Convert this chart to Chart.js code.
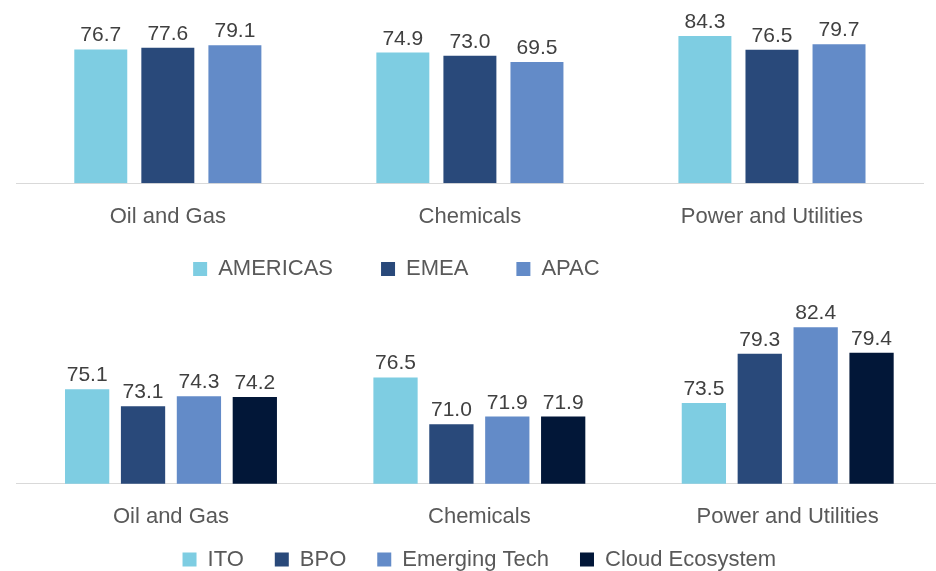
<!DOCTYPE html>
<html>
<head>
<meta charset="utf-8">
<script src="https://cdn.jsdelivr.net/npm/chart.js@4.4.1/dist/chart.umd.min.js"></script>
<style>
  body { margin: 0; width: 936px; height: 571px; overflow: hidden; background: #fff; position: relative; }
  canvas { position: absolute; left: 0; }
</style>
</head>
<body>
<canvas id="regionChart" width="936" height="330" style="top:0"></canvas>
<canvas id="serviceChart" width="960" height="324" style="top:290px"></canvas>
<script>
// Categories
const industries = ["Oil and Gas", "Chemicals", "Power and Utilities"];

// Top chart: scores by region
const regions = ["AMERICAS", "EMEA", "APAC"];
const americas = [76.7, 74.9, 84.3];
const emea = [77.6, 73.0, 76.5];
const apac = [79.1, 69.5, 79.7];

// Bottom chart: scores by service type
const serviceTypes = ["ITO", "BPO", "Emerging Tech", "Cloud Ecosystem"];
const ito = [75.1, 76.5, 73.5];
const bpo = [73.1, 71.0, 79.3];
const emergingTech = [74.3, 71.9, 82.4];
const cloudEcosystem = [74.2, 71.9, 79.4];

const colors = ["#7ECDE2", "#29497A", "#638BC8", "#021738"];
const FONT = '"Liberation Sans", Arial, sans-serif';

// Draw the value above every bar
const valueLabels = {
  id: "valueLabels",
  afterDatasetsDraw(chart) {
    const ctx = chart.ctx;
    ctx.save();
    ctx.font = "21px " + FONT;
    ctx.fillStyle = "#404040";
    ctx.textAlign = "center";
    ctx.textBaseline = "alphabetic";
    chart.data.datasets.forEach(function (ds, i) {
      chart.getDatasetMeta(i).data.forEach(function (bar, j) {
        ctx.fillText(ds.data[j].toFixed(1), bar.x, bar.y - 8);
      });
    });
    ctx.restore();
  },
};

// Nudge the legend box: it sits closer to the axis and is not centred under the plot
const legendShift = {
  id: "legendShift",
  afterLayout(chart, args, opts) {
    const lg = chart.legend;
    lg.left += opts.dx;
    lg.right += opts.dx;
    lg.top += opts.dy;
    lg.bottom += opts.dy;
  },
};

function makeDatasets(names, series, catPct, barPct) {
  return names.map(function (name, i) {
    return {
      label: name,
      data: series[i],
      backgroundColor: colors[i],
      borderWidth: 0,
      categoryPercentage: catPct,
      barPercentage: barPct,
    };
  });
}

function makeOptions(cfg) {
  return {
    responsive: false,
    animation: false,
    layout: { padding: { top: cfg.padTop, left: 16.8, right: cfg.padRight, bottom: cfg.padBottom } },
    scales: {
      x: {
        grid: { display: false, drawTicks: false },
        border: { display: true, color: "#d9d9d9", width: 1 },
        ticks: { padding: 20, color: "#595959", font: { family: FONT, size: 22 } },
      },
      y: { display: false, min: cfg.min, max: cfg.max },
    },
    plugins: {
      tooltip: { enabled: false },
      legend: {
        position: "bottom",
        labels: {
          boxWidth: 14,
          boxHeight: 14,
          padding: cfg.legendPadding,
          color: "#595959",
          font: { family: FONT, size: 22 },
        },
      },
      legendShift: { dx: cfg.legendDx, dy: cfg.legendDy },
    },
  };
}

new Chart(document.getElementById("regionChart"), {
  type: "bar",
  data: {
    labels: industries,
    datasets: makeDatasets(regions, [americas, emea, apac], 0.666, 0.79),
  },
  options: makeOptions({
    min: 0, max: 100, padTop: 8.7, padRight: 13, padBottom: 0.3,
    legendPadding: 48, legendDx: -73.5, legendDy: -39.7,
  }),
  plugins: [valueLabels, legendShift],
});

new Chart(document.getElementById("serviceChart"), {
  type: "bar",
  data: {
    labels: industries,
    datasets: makeDatasets(serviceTypes, [ito, bpo, emergingTech, cloudEcosystem], 0.725, 0.792),
  },
  options: makeOptions({
    min: 64, max: 84, padTop: 23.7, padRight: 18.1, padBottom: 0.9,
    legendPadding: 31, legendDx: 0, legendDy: -32.6,
  }),
  plugins: [valueLabels, legendShift],
});
</script>
</body>
</html>
